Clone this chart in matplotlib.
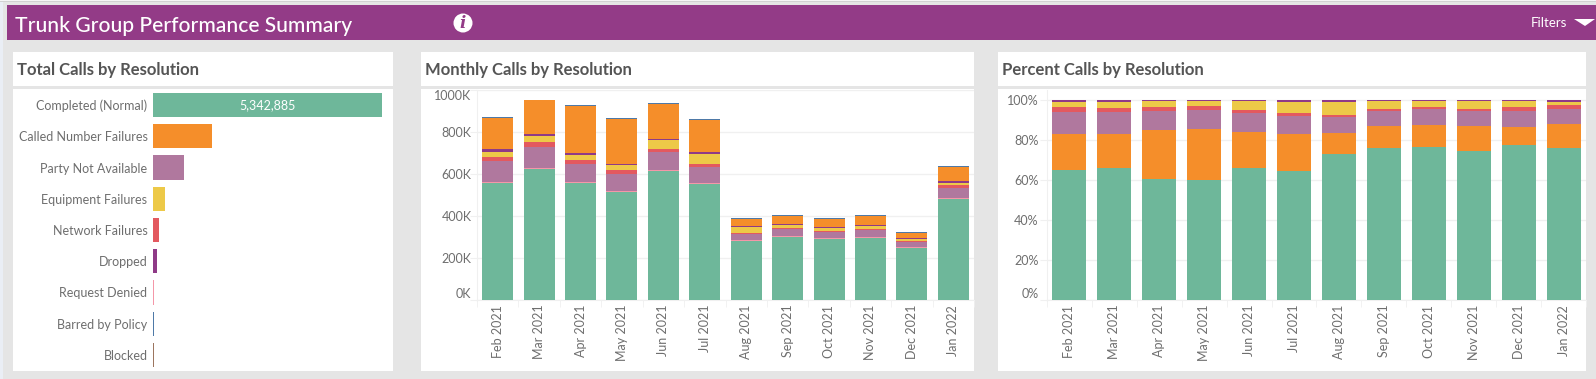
import matplotlib
matplotlib.use('Agg')
import matplotlib.pyplot as plt
from matplotlib.patches import Rectangle, Circle, Polygon

plt.rcParams['font.family'] = ['Lato', 'DejaVu Sans']

W, H = 1596, 379

# data
resolutions = ['Completed (Normal)', 'Called Number Failures', 'Party Not Available',
               'Equipment Failures', 'Network Failures', 'Dropped',
               'Request Denied', 'Barred by Policy', 'Blocked']
totals = [5342885, 1372000, 718000, 277000, 134000, 87000, 25000, 20000, 15000]

months = ['Feb 2021', 'Mar 2021', 'Apr 2021', 'May 2021', 'Jun 2021', 'Jul 2021',
          'Aug 2021', 'Sep 2021', 'Oct 2021', 'Nov 2021', 'Dec 2021', 'Jan 2022']

# monthly calls, in thousands
m_completed = [555, 621, 555, 512, 612, 550, 280, 299, 289, 294, 247, 479]
m_denied = [5, 5, 5, 5, 5, 5, 5, 5, 5, 5, 5, 5]
m_party = [100, 100, 85, 81, 85, 76, 28, 33, 30, 33, 25, 47]
m_network = [19, 24, 19, 19, 14, 14, 3, 5, 3, 5, 3, 14]
m_equipment = [24, 28, 24, 24, 43, 47, 30, 14, 14, 14, 9, 9]
m_dropped = [14, 9, 9, 5, 5, 9, 5, 5, 5, 5, 5, 9]
m_called = [149, 161, 223, 213, 166, 153, 33, 38, 38, 43, 24, 71]
m_barred = [3, 4, 4, 4, 4, 4, 4, 4, 4, 4, 4, 4]

# percent of calls
p_completed = [64.8, 65.8, 60.2, 59.8, 65.8, 64.2, 72.8, 76.0, 76.3, 74.3, 77.3, 76.0]
p_called = [18.0, 17.0, 24.7, 25.5, 18.0, 18.7, 10.5, 10.8, 11.0, 12.5, 9.0, 11.8]
p_party = [11.0, 11.0, 9.5, 9.5, 9.5, 9.0, 8.0, 7.5, 8.0, 7.5, 8.0, 7.5]
p_network = [2.5, 2.0, 2.0, 2.0, 1.5, 1.5, 1.0, 1.0, 1.0, 1.0, 2.0, 2.0]
p_equipment = [2.5, 3.0, 3.0, 2.5, 4.5, 5.5, 6.5, 4.0, 3.0, 4.0, 3.0, 1.5]
p_dropped = [1.2, 1.2, 0.6, 0.7, 0.7, 1.1, 1.2, 0.7, 0.7, 0.7, 0.7, 1.2]

GREEN = '#6eb79a'
ORANGE = '#f58e2a'
MAUVE = '#b0789e'
RED = '#e3595f'
YELLOW = '#edc948'
PURPLE = '#8f3a87'
PINK = '#f497a8'
BLUE = '#4e79a7'
BROWN = '#9c755f'
bar_colors = [GREEN, ORANGE, MAUVE, YELLOW, RED, PURPLE, PINK, BLUE, BROWN]
HEADER = '#933b87'
BG = '#e5e5e5'
TEXT = '#6e6e6e'
TITLE = '#555555'
LIGHT = '#f0f0f0'

def px_axes(x0, y0, x1, y1):
	# axes from pixel box, y counted from the top of the picture
	return fig.add_axes([x0 / W, 1 - y1 / H, (x1 - x0) / W, (y1 - y0) / H])

def box(x0, y0, x1, y1, color):
	bg.add_patch(Rectangle((x0, y0), x1 - x0, y1 - y0, facecolor=color, edgecolor='none'))

def stacked(ax, series, colors, width):
	bottom = [0] * len(months)
	for vals, col in zip(series, colors):
		ax.bar(range(len(months)), vals, width=width, bottom=bottom, color=col, zorder=3)
		bottom = [b + v for b, v in zip(bottom, vals)]

def style_axis(ax, ticks, ticklabels, top):
	ax.set_facecolor('none')
	ax.set_xlim(-0.5, 11.5)
	ax.set_ylim(0, top)
	for s in ['top', 'right']:
		ax.spines[s].set_visible(False)
	for s in ['left', 'bottom']:
		ax.spines[s].set_color(LIGHT)
	ax.set_yticks(ticks)
	ax.set_yticklabels(ticklabels, fontsize=9, color=TEXT)
	ax.tick_params(axis='y', length=5, color=LIGHT, pad=-1)
	ax.grid(axis='y', color=LIGHT, linewidth=1, zorder=0)
	ax.set_xticks(range(12))
	ax.set_xticklabels(months, rotation=90, fontsize=9, color=TEXT)
	ax.set_xticks([i - 0.5 for i in range(13)], minor=True)
	ax.tick_params(axis='x', which='major', length=0, pad=3.5)
	ax.tick_params(axis='x', which='minor', length=5, color=LIGHT)

fig = plt.figure(figsize=(W / 100, H / 100), dpi=100, facecolor=BG)

# background layer in pixel coordinates
bg = fig.add_axes([0, 0, 1, 1])
bg.set_xlim(0, W)
bg.set_ylim(H, 0)
bg.axis('off')
box(0, 0, 3, H, '#eaeef5')
box(0, 0, W, 1, '#f5f5f5')
box(0, 1, W, 2, '#d2d2d2')
box(7, 5, W, 40, HEADER)
for x0, x1, title in [(13, 393, 'Total Calls by Resolution'),
                      (421, 974, 'Monthly Calls by Resolution'),
                      (998, 1586, 'Percent Calls by Resolution')]:
	box(x0, 52, x1, 86, 'white')
	box(x0, 89, x1, 371, 'white')
	bg.text(x0 + 4, 70, title, fontsize=12, fontweight='bold', color=TITLE, va='center')

bg.text(15, 26.5, 'Trunk Group Performance Summary', fontsize=15.1, color='white', va='center', fontweight='medium')
bg.add_patch(Circle((463, 23), 9.5, facecolor='white', edgecolor='none'))
bg.text(463, 23.5, 'i', fontsize=12, fontweight='bold', style='italic', color=HEADER, ha='center', va='center', family='DejaVu Serif')
bg.text(1531, 23, 'Filters', fontsize=9.5, color='white', va='center')
bg.add_patch(Polygon([(1574, 19), (1595, 19), (1585, 26)], closed=True, facecolor='white', edgecolor='none'))

# total calls
ax1 = px_axes(153, 89.4, 382, 370.6)
ax1.set_facecolor('none')
ax1.barh(range(len(resolutions)), totals, height=0.77, color=bar_colors)
ax1.set_xlim(0, totals[0])
ax1.set_ylim(len(resolutions) - 0.5, -0.5)
ax1.set_yticks(range(len(resolutions)))
ax1.set_yticklabels(resolutions, fontsize=9, color=TEXT)
ax1.tick_params(axis='y', length=0, pad=4)
ax1.set_xticks([])
for s in ax1.spines.values():
	s.set_visible(False)
ax1.text(totals[0] / 2, 0, '{:,}'.format(totals[0]), color='white', fontsize=9, ha='center', va='center')

# monthly calls
ax2 = px_axes(477, 89.5, 974, 300)
stacked(ax2, [m_completed, m_denied, m_party, m_network, m_equipment, m_dropped, m_called, m_barred],
        [GREEN, PINK, MAUVE, RED, YELLOW, PURPLE, ORANGE, BLUE], 0.75)
style_axis(ax2, [0, 200, 400, 600, 800, 1000], ['0K', '200K', '400K', '600K', '800K', '1000K'], 1000)
ax2.get_yticklabels()[0].set_va('bottom')
ax2.get_yticklabels()[-1].set_va('top')

# percent calls
ax3 = px_axes(1047, 89.5, 1586, 300)
stacked(ax3, [p_completed, p_called, p_party, p_network, p_equipment, p_dropped],
        [GREEN, ORANGE, MAUVE, RED, YELLOW, PURPLE], 0.757)
style_axis(ax3, [0, 20, 40, 60, 80, 100], ['0%', '20%', '40%', '60%', '80%', '100%'], 105)
ax3.tick_params(axis='y', pad=1)
ax3.get_yticklabels()[0].set_va('bottom')

fig.savefig('out.png', dpi=100, facecolor=BG)
